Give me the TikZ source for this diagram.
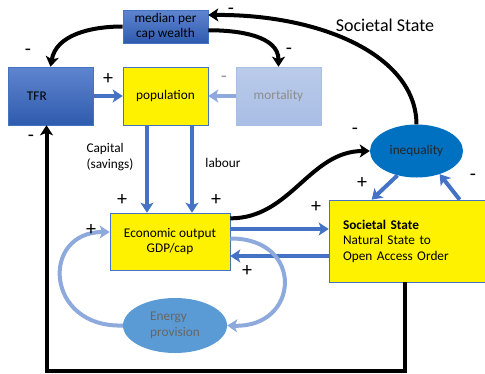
\documentclass[tikz,border=0pt]{standalone}
\usepackage{fontspec}
\setmainfont{Carlito}
\usetikzlibrary{shapes.geometric,arrows.meta}

\definecolor{boxtop}{HTML}{5F85CF}
\definecolor{boxbot}{HTML}{2F5BAE}
\definecolor{boxline}{HTML}{4472C4}
\definecolor{flowblue}{HTML}{4472C4}
\definecolor{flowlight}{HTML}{8EA9DB}
\definecolor{mortfill}{HTML}{A9BEE5}
\definecolor{energyfill}{HTML}{5B9BD5}
\definecolor{ineqfill}{HTML}{0070C0}

\begin{document}
\begin{tikzpicture}[>={Stealth[length=10pt,width=13pt,inset=2.5pt]}, x=1pt, y=-1pt]

\tikzset{%
every box/.style={
draw=boxline,
line width=0.6pt,
font=\fontsize{13.3}{15.5}\selectfont,
align=center,
inner sep=2pt
},
box blue/.style={
top color=boxtop,
bottom color=boxbot
},
box yellow/.style={
fill=yellow
},
box pale/.style={
top color=mortfill!80!white,
bottom color=mortfill,
draw=mortfill,
text=black!45
},
black link/.style={
->,
line width=4pt
},
blue link/.style={
->,
draw=flowblue,
line width=4pt
},
light link/.style={
->,
draw=flowlight,
line width=4pt
},
sign/.style={
font=\fontsize{20}{20}\selectfont,
inner sep=0pt
}
}

\useasboundingbox (0,0) rectangle (485,373);

% Boxes of the population block
\node [every box, box blue, minimum width=85, minimum height=33] (median) at (165.5,26.5) {median per\\cap wealth};
\node [every box, box blue, minimum height=58, text width=47, inner xsep=19, align=left] (tfr) at (50.5,96) {TFR};
\node [every box, box yellow, minimum width=85, minimum height=58] (population) at (165.5,96) {population};
\node [every box, box pale, minimum width=85, minimum height=58] (mortality) at (278.5,96) {mortality};

% Economy and society
\node [every box, box yellow, minimum width=120, minimum height=57] (econ) at (170,241.5) {Economic output\\GDP/cap};
\node [every box, box yellow, minimum height=82, text width=128, inner xsep=14, align=left] (societal) at (407,241) {\textbf{Societal State}\\Natural State to\\Open Access Order};
\node [ellipse, fill=ineqfill, minimum width=93, minimum height=53, font=\fontsize{13.3}{15.5}\selectfont, text=black!85] (inequality) at (416.5,151) {inequality};
\node [ellipse, fill=energyfill, minimum width=104, minimum height=55, inner sep=0pt, font=\fontsize{13.3}{15.5}\selectfont, text=black!60, align=left] (energy) at (175,325.5) {Energy\\provision};

% Title
\node [font=\fontsize{18}{20}\selectfont] (title) at (385,25) {Societal State};

% Black feedback links
\draw [black link] (median.west) to[out=180, in=80] (tfr.north);
\draw [black link] (median.-5) to[out=0, in=90] (mortality.north);
\draw [black link] (inequality.north) .. controls (416,55) and (320,14) .. (median.15);
\draw [black link] (econ.21) to[out=0, in=180] (inequality.west);
\draw [black link] ([xshift=-2]societal.south) -- ++(0,89) -| ([xshift=-4]tfr.south);

% Blue flows
\draw [blue link] (tfr.east) -- (population.west);
\draw [light link] (mortality.west) -- (population.east);
\draw [blue link] ([xshift=-18.5]population.south) -- ([xshift=-18.5]population.south |- econ.north);
\draw [blue link] ([xshift=26.5]population.south) -- ([xshift=26.5]population.south |- econ.north);
\draw [blue link] ([yshift=12.5]econ.east) -- ([yshift=12.5]econ.east -| societal.west);
\draw [blue link] ([yshift=-15]societal.west) -- ([yshift=-15]societal.west -| econ.east);
\draw [blue link] (inequality.232) -- ([xshift=43]societal.north west);
\draw [blue link] ([xshift=131]societal.north west) -- (inequality.-45);

% Energy loop
\draw [light link] (energy.west) .. controls (45,328) and (40,232) .. ([yshift=9.5]econ.west);
\draw [light link] ([yshift=3]econ.east) .. controls (305,238) and (300,328) .. (energy.east);

% Labels
\node [font=\fontsize{13.3}{15.5}\selectfont, align=left, anchor=west] (capital) at (83,157) {Capital\\(savings)};
\node [font=\fontsize{13.3}{15.5}\selectfont] (labour) at (223,163) {labour};

% Signs
\foreach \s/\px/\py in {-/28/52, +/108/79, -/289/51, -/231/11, -/31/138, -/355/131, +/362/183, -/473/177, +/122/200, +/216/200, +/316/207, +/91/230, +/247/271}
\node [sign] at (\px,\py) {\s};
\node [sign, text=black!40] at (224,79) {-};

\end{tikzpicture}
\end{document}
